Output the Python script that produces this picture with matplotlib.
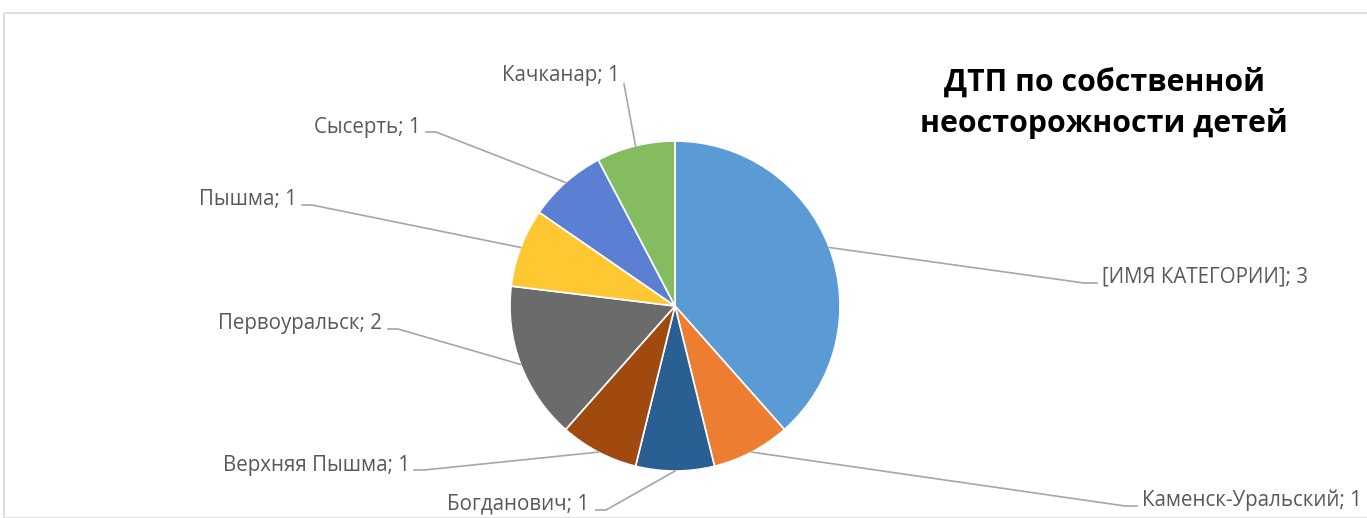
import numpy as np
import matplotlib.pyplot as plt
from matplotlib.patches import Rectangle

plt.rcParams['font.family'] = ['Open Sans', 'DejaVu Sans']

# The data (slice sizes as drawn; the printed numbers are the chart's own labels)
categories = ['[ИМЯ КАТЕГОРИИ]', 'Каменск-Уральский', 'Богданович', 'Верхняя Пышма',
              'Первоуральск', 'Пышма', 'Сысерть', 'Качканар']
slice_sizes = [5, 1, 1, 1, 2, 1, 1, 1]
label_numbers = [3, 1, 1, 1, 2, 1, 1, 1]
colors = ['#5B9BD5', '#ED7D31', '#2A5F93', '#A04A0F',
          '#6B6B6B', '#FFC832', '#5B80D3', '#86BC60']
title = 'ДТП по собственной\nнеосторожности детей'

# Layout in pixels (origin top-left): label anchor, alignment, leader start, elbow length
W, H = 1367, 518
label_layout = [
    (1102, 277, 'left', (1097, 283), -13),
    (1142, 500, 'left', (1137, 506), -12),
    (589, 504, 'right', (596, 510), 10),
    (410, 465, 'right', (414, 470), 10),
    (382, 323, 'right', (388, 329), 10),
    (297, 199, 'right', (302, 205), 10),
    (421, 127, 'right', (426, 132), 10),
    (620, 75, 'right', (624, 84), 0),
]
center = (675, 306)
radius = 165

fig = plt.figure(figsize=(W / 100, H / 100), dpi=100)
ax = fig.add_axes([0, 0, 1, 1])

def flip(y):
    return H - y

wedges, _ = ax.pie(slice_sizes, colors=colors, startangle=90, counterclock=False,
                   center=(center[0], flip(center[1])), radius=radius,
                   wedgeprops=dict(edgecolor='white', linewidth=1.2))
ax.set_xlim(0, W)
ax.set_ylim(0, H)
ax.set_aspect('auto')
ax.axis('off')

for w, cat, num, (tx, ty, ha, (sx, sy), elbow) in zip(wedges, categories, label_numbers, label_layout):
    mid = np.deg2rad((w.theta1 + w.theta2) / 2)
    axx = center[0] + radius * np.cos(mid)
    ayy = flip(center[1]) + radius * np.sin(mid)
    ax.plot([sx, sx + elbow, axx], [flip(sy), flip(sy), ayy], color='#A6A6A6', lw=1.2)
    ax.text(tx, flip(ty), f'{cat}; {num}', ha=ha, va='center', fontsize=14.8, color='#595959')

ax.text(1104, flip(103), title, ha='center', va='center', fontsize=21.8,
        fontweight='bold', color='black', linespacing=1.42)

# chart area border
fig.patches.append(Rectangle((4 / W, 0), 2, 1 - 13 / H, transform=fig.transFigure,
                             fill=False, edgecolor='#D9D9D9', lw=1.2))

fig.savefig('out.png', dpi=100, facecolor='white')
